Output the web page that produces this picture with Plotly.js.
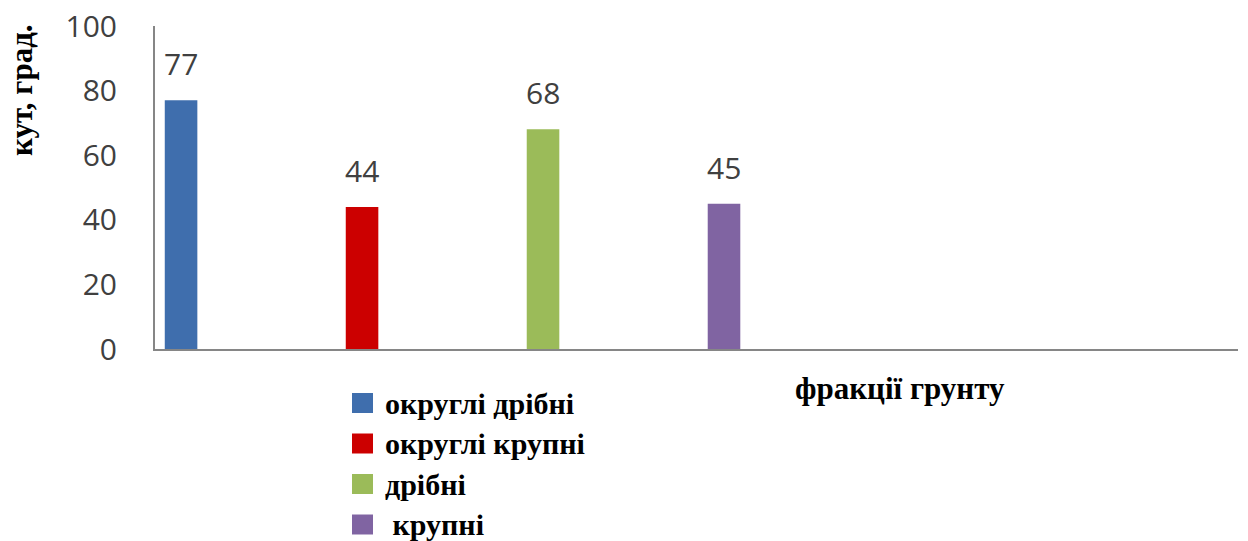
<!DOCTYPE html>
<html>
<head>
<meta charset="utf-8">
<script src="https://cdn.plot.ly/plotly-3.0.1.min.js"></script>
<style>html,body{margin:0;padding:0;background:#fff;}#chart{width:1248px;height:541px;}</style>
</head>
<body>
<div id="chart"></div>
<script>
const seriesNames = ["округлі дрібні", "округлі крупні", "дрібні", " крупні"];
const seriesValues = [77, 44, 68, 45];
const seriesPositions = [0, 1, 2, 3];
const seriesColors = ["#3F6EAD", "#CC0000", "#9BBB59", "#8064A2"];
const yTicks = [0, 20, 40, 60, 80, 100];
const yTitle = "кут, град.";
const xTitle = "фракції грунту";

// plot geometry (pixels) used to place the hand-drawn legend
const W = 1248, H = 541, ML = 155, MR = 10, MT = 26, MB = 192;
const PW = W - ML - MR, PH = H - MT - MB;
const px2x = p => (p - ML) / PW;
const px2y = p => (H - MB - p) / PH;

const traces = seriesNames.map((name, i) => ({
  type: "bar",
  name: name,
  x: [seriesPositions[i]],
  y: [seriesValues[i]],
  width: 0.18,
  marker: {color: seriesColors[i]},
  showlegend: false,
  hoverinfo: "skip"
}));

const valueLabels = seriesValues.map((v, i) => ({
  text: String(v), xref: "x", yref: "y", x: seriesPositions[i], y: v,
  xanchor: "center", yanchor: "bottom", yshift: 14, showarrow: false,
  font: {family: "Open Sans, sans-serif", size: 30, color: "#404040"}
}));

// legend rows (layout only)
const legTop = 403, legStep = 40.5, swL = 352, swR = 373, swH = 20, txtL = 383;
const legendText = seriesNames.map((name, i) => ({
  text: name, xref: "paper", yref: "paper",
  x: px2x(txtL), y: px2y(legTop + i * legStep),
  xanchor: "left", yanchor: "middle", showarrow: false,
  font: {family: "Liberation Serif, serif", size: 30, color: "#000", weight: "bold"}
}));
const legendSwatches = seriesColors.map((c, i) => ({
  type: "rect", xref: "paper", yref: "paper", layer: "above",
  x0: px2x(swL), x1: px2x(swR),
  y0: px2y(legTop + i * legStep - swH / 2), y1: px2y(legTop + i * legStep + swH / 2),
  fillcolor: c, line: {width: 0}
}));

const layout = {
  width: W, height: H,
  margin: {l: ML, r: MR, t: MT, b: MB},
  paper_bgcolor: "#fff", plot_bgcolor: "#fff",
  barmode: "overlay",
  showlegend: false,
  xaxis: {
    range: [-0.144, 5.84],
    showticklabels: false, ticks: "",
    showgrid: false, zeroline: false,
    showline: true, linecolor: "#868686", linewidth: 2
  },
  yaxis: {
    range: [0, 100],
    tickvals: yTicks,
    ticks: "",
    showgrid: false, zeroline: false,
    showline: true, linecolor: "#868686", linewidth: 2,
    tickfont: {family: "Open Sans, sans-serif", size: 30, color: "#404040"},
    ticklabelstandoff: 30
  },
  shapes: legendSwatches,
  annotations: valueLabels.concat(legendText, [
    {text: yTitle, xref: "paper", yref: "paper", x: px2x(22), y: px2y(90), xanchor: "center", yanchor: "middle",
     textangle: -90, showarrow: false,
     font: {family: "Liberation Serif, serif", size: 31, color: "#000", weight: "bold"}},
    {text: xTitle, xref: "paper", yref: "paper", x: px2x(900), y: px2y(388), xanchor: "center", yanchor: "middle",
     showarrow: false,
     font: {family: "Liberation Serif, serif", size: 31, color: "#000", weight: "bold"}}
  ])
};

Plotly.newPlot("chart", traces, layout, {displayModeBar: false, staticPlot: true});
</script>
</body>
</html>
